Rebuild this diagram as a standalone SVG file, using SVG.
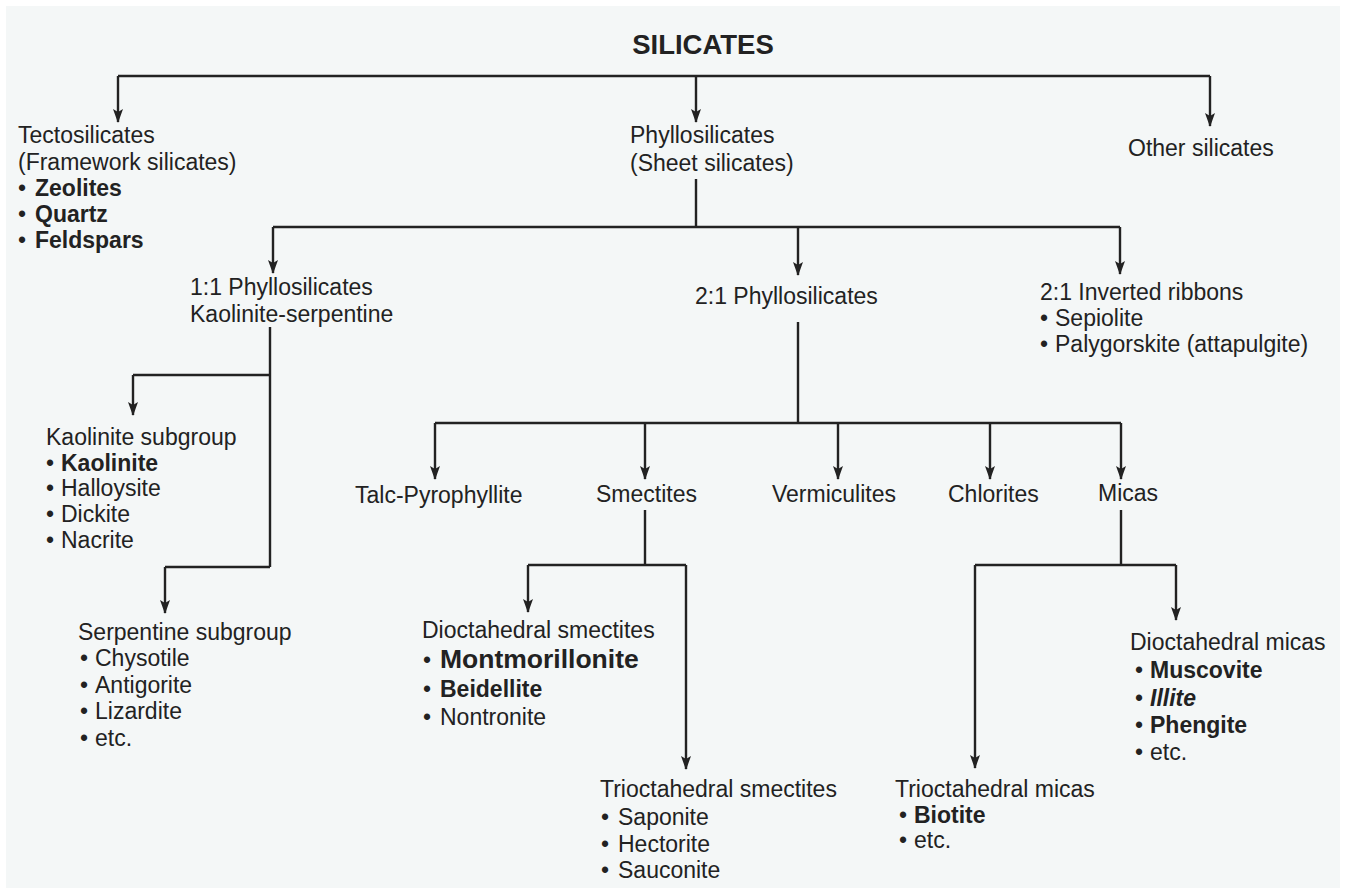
<svg xmlns="http://www.w3.org/2000/svg" width="1348" height="890" viewBox="0 0 1348 890">
<style>
text{font-family:"Liberation Sans",Arial,sans-serif;font-size:23px;fill:#222}
.b{font-weight:bold}
.bi{font-weight:bold;font-style:italic}
.big{font-size:26.5px;font-weight:bold}
.title{font-size:27.5px;font-weight:bold}
.c{fill:none;stroke:#222;stroke-width:2.4}
.a{marker-end:url(#ah)}
</style>
<defs>
<marker id="ah" viewBox="0 0 14 10" refX="13" refY="5" markerWidth="14" markerHeight="10" markerUnits="userSpaceOnUse" orient="auto">
<path d="M0,0 L14,5 L0,10 L3,5 z" fill="#222"/>
</marker>
</defs>
<rect width="1348" height="890" fill="#fff"/>
<rect x="6" y="6" width="1334" height="882" fill="#f4f7f7"/>
<g id="connectors">
<path class="c" d="M118,76 H1210"/>
<path class="c a" d="M118,76 V122"/>
<path class="c a" d="M696,76 V122"/>
<path class="c a" d="M1210,76 V126"/>
<path class="c" d="M696,179 V227"/>
<path class="c" d="M273,227 H1120"/>
<path class="c a" d="M273,227 V273"/>
<path class="c a" d="M798,227 V275"/>
<path class="c a" d="M1120,227 V274"/>
<path class="c" d="M270,327 V567"/>
<path class="c" d="M133,375 H270"/>
<path class="c a" d="M133,375 V415"/>
<path class="c" d="M165,567 H270"/>
<path class="c a" d="M165,567 V613"/>
<path class="c" d="M798,322 V423"/>
<path class="c" d="M435,423 H1121"/>
<path class="c a" d="M435,423 V479"/>
<path class="c a" d="M645,423 V479"/>
<path class="c a" d="M838,423 V479"/>
<path class="c a" d="M990,423 V479"/>
<path class="c a" d="M1121,423 V479"/>
<path class="c" d="M645,510 V565"/>
<path class="c" d="M528,565 H686"/>
<path class="c a" d="M528,565 V612"/>
<path class="c a" d="M686,565 V769"/>
<path class="c" d="M1121,510 V565"/>
<path class="c" d="M975,565 H1176"/>
<path class="c a" d="M1176,565 V620"/>
<path class="c a" d="M975,565 V768"/>
</g>
<g id="silicates"><text class="title" x="703" y="54" text-anchor="middle">SILICATES</text></g>
<g id="tectosilicates">
<text x="18" y="143">Tectosilicates</text>
<text x="18" y="170">(Framework silicates)</text>
<text x="18" y="196">•<tspan class="b" x="35">Zeolites</tspan></text>
<text x="18" y="222">•<tspan class="b" x="35">Quartz</tspan></text>
<text x="18" y="248">•<tspan class="b" x="35">Feldspars</tspan></text>
</g>
<g id="phyllosilicates">
<text x="630" y="143">Phyllosilicates</text>
<text x="630" y="171">(Sheet silicates)</text>
</g>
<g id="other"><text x="1128" y="156">Other silicates</text></g>
<g id="phyllo11">
<text x="190" y="295">1:1 Phyllosilicates</text>
<text x="190" y="322">Kaolinite-serpentine</text>
</g>
<g id="phyllo21"><text x="695" y="304">2:1 Phyllosilicates</text></g>
<g id="ribbons">
<text x="1040" y="300">2:1 Inverted ribbons</text>
<text x="1040" y="326">•<tspan x="1055">Sepiolite</tspan></text>
<text x="1040" y="352">•<tspan x="1055">Palygorskite (attapulgite)</tspan></text>
</g>
<g id="kaolinite">
<text x="46" y="445">Kaolinite subgroup</text>
<text x="46" y="471">•<tspan class="b" x="61">Kaolinite</tspan></text>
<text x="46" y="496">•<tspan x="61">Halloysite</tspan></text>
<text x="46" y="522">•<tspan x="61">Dickite</tspan></text>
<text x="46" y="548">•<tspan x="61">Nacrite</tspan></text>
</g>
<g id="serpentine">
<text x="78" y="640">Serpentine subgroup</text>
<text x="80" y="666">•<tspan x="95">Chysotile</tspan></text>
<text x="80" y="693">•<tspan x="95">Antigorite</tspan></text>
<text x="80" y="719">•<tspan x="95">Lizardite</tspan></text>
<text x="80" y="746">•<tspan x="95">etc.</tspan></text>
</g>
<g id="talc"><text x="355" y="503">Talc-Pyrophyllite</text></g>
<g id="smectites"><text x="596" y="502">Smectites</text></g>
<g id="vermiculites"><text x="772" y="502">Vermiculites</text></g>
<g id="chlorites"><text x="948" y="502">Chlorites</text></g>
<g id="micas"><text x="1098" y="501">Micas</text></g>
<g id="diosmectites">
<text x="422" y="638">Dioctahedral smectites</text>
<text x="423" y="668">•<tspan class="big" x="440">Montmorillonite</tspan></text>
<text x="423" y="697">•<tspan class="b" x="440">Beidellite</tspan></text>
<text x="423" y="725">•<tspan x="440">Nontronite</tspan></text>
</g>
<g id="trismectites">
<text x="600" y="797">Trioctahedral smectites</text>
<text x="601" y="825">•<tspan x="618">Saponite</tspan></text>
<text x="601" y="852">•<tspan x="618">Hectorite</tspan></text>
<text x="601" y="878">•<tspan x="618">Sauconite</tspan></text>
</g>
<g id="diomicas">
<text x="1130" y="650">Dioctahedral micas</text>
<text x="1135" y="678">•<tspan class="b" x="1150">Muscovite</tspan></text>
<text x="1135" y="706">•<tspan class="bi" x="1150">Illite</tspan></text>
<text x="1135" y="733">•<tspan class="b" x="1150">Phengite</tspan></text>
<text x="1135" y="760">•<tspan x="1150">etc.</tspan></text>
</g>
<g id="trimicas">
<text x="895" y="797">Trioctahedral micas</text>
<text x="899" y="823">•<tspan class="b" x="914">Biotite</tspan></text>
<text x="899" y="848">•<tspan x="914">etc.</tspan></text>
</g>
</svg>
